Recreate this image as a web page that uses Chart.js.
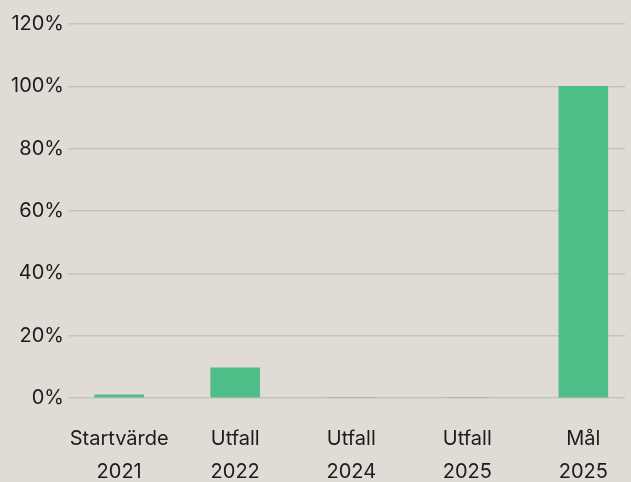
<!DOCTYPE html>
<html>
<head>
<meta charset="utf-8">
<script src="https://cdn.jsdelivr.net/npm/chart.js@4"></script>
<style>
  html, body { margin: 0; padding: 0; background: #e0dcd5; overflow: hidden; }
  canvas { display: block; }
</style>
</head>
<body>
<canvas id="myChart" width="631" height="482"></canvas>
<script>
// data
var categories = [['Startvärde', '2021'], ['Utfall', '2022'], ['Utfall', '2024'], ['Utfall', '2025'], ['Mål', '2025']];
var values = [1, 9.7, 0, 0, 100];
var yTicks = [0, 20, 40, 60, 80, 100, 120];

var font = { family: 'Inter, "Noto Sans", sans-serif', size: 20, lineHeight: 1.65 };

var ctx = document.getElementById('myChart').getContext('2d');
var chart = new Chart(ctx, {
  type: 'bar',
  data: {
    datasets: [{
      data: values.map(function (v, i) { return { x: i, y: v }; }),
      backgroundColor: '#4fbe88',
      barThickness: 49
    }]
  },
  options: {
    responsive: false,
    animation: false,
    layout: { padding: { top: 24, right: 6, left: 0, bottom: 0 } },
    plugins: { legend: { display: false }, tooltip: { enabled: false } },
    scales: {
      x: {
        type: 'linear',
        offset: false,
        min: -0.441,
        max: 4.359,
        grid: { display: false },
        border: { display: false },
        afterBuildTicks: function (scale) {
          scale.ticks = categories.map(function (c, i) { return { value: i }; });
        },
        afterFit: function (scale) { scale.height = 84; },
        ticks: {
          autoSkip: false,
          maxRotation: 0,
          padding: 16,
          color: '#1c1c1c',
          font: font,
          callback: function (v) { return categories[v]; }
        }
      },
      y: {
        min: 0,
        max: 120,
        afterBuildTicks: function (scale) {
          scale.ticks = yTicks.map(function (v) { return { value: v }; });
        },
        afterFit: function (scale) { scale.width = 68; },
        grid: { color: '#c6c2bd', lineWidth: 1.5, drawTicks: false },
        border: { display: false },
        ticks: {
          padding: 4,
          color: '#1c1c1c',
          font: { family: font.family, size: 20 },
          callback: function (v) { return v + '%'; }
        }
      }
    }
  }
});
</script>
</body>
</html>
